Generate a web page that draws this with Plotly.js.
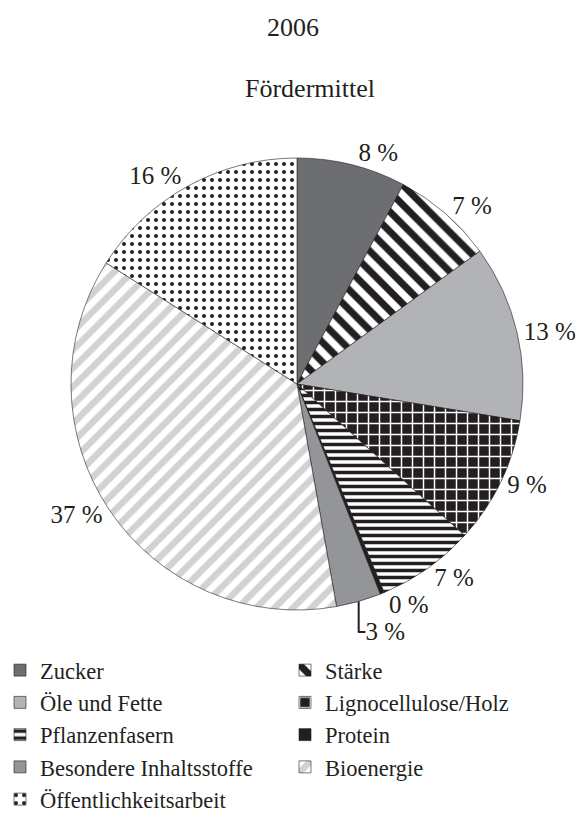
<!DOCTYPE html>
<html>
<head>
<meta charset="utf-8">
<script src="https://cdn.plot.ly/plotly-3.0.1.min.js"></script>
<style>html,body{margin:0;padding:0;background:#fff;}#chart{width:586px;height:821px;}</style>
</head>
<body>
<div id="chart"></div>
<script>
const categories = ["Zucker", "Stärke", "Öle und Fette", "Lignocellulose/Holz", "Pflanzenfasern", "Protein", "Besondere Inhaltsstoffe", "Bioenergie", "Öffentlichkeitsarbeit"];
const shares = [7.8, 7.2, 12.6, 9.1, 7.0, 0.3, 3.2, 36.8, 16.0];
const chartTitle = "2006";
const subTitle = "Fördermittel";

const patShape = ["", "\\", "", "+", "-", "", "", "/", "."];
const patFg = ["#6d6e71", "#231f20", "#b1b3b6", "#ffffff", "#231f20", "#231f20", "#939598", "#d1d2d4", "#231f20"];
const patBg = ["#6d6e71", "#ffffff", "#b1b3b6", "#231f20", "#ffffff", "#231f20", "#939598", "#ffffff", "#ffffff"];
const patSize = [8, 14, 8, 11, 7, 8, 8, 13, 8];
const patSolid = [0.3, 0.5, 0.3, 0.25, 0.5, 0.3, 0.3, 0.5, 0.2];

const labelsText = shares.map(v => Math.round(v) + " %");
const font = "Liberation Serif, Times New Roman, serif";

const trace = {
  type: "pie",
  labels: categories,
  values: shares,
  sort: false,
  direction: "clockwise",
  rotation: 0,
  text: labelsText,
  textinfo: "text",
  textposition: "outside",
  outsidetextfont: {family: font, size: 25, color: "#231f20"},
  hoverinfo: "label+percent",
  marker: {
    colors: patBg,
    line: {color: "#231f20", width: 0.6},
    pattern: {shape: patShape, fgcolor: patFg, bgcolor: patBg, size: patSize, solidity: patSolid, fillmode: "replace"}
  },
  domain: {x: [71/586, 523/586], y: [211/821, 663/821]}
};

const layout = {
  width: 586, height: 821,
  margin: {l: 0, r: 0, t: 0, b: 0, autoexpand: false},
  paper_bgcolor: "#fff",
  font: {family: font, size: 22.5, color: "#231f20"},
  showlegend: true,
  legend: {
    orientation: "h", x: 0, y: 0, xanchor: "left", yanchor: "bottom",
    entrywidth: 240, entrywidthmode: "pixels", traceorder: "normal",
    bgcolor: "rgba(255,255,255,0)",
    font: {family: font, size: 22.5, color: "#231f20"}, itemclick: false
  },
  annotations: [
    {text: chartTitle, xref: "paper", yref: "paper", x: 0.5, y: 1 - 28/821, xanchor: "center", yanchor: "middle", showarrow: false, font: {family: font, size: 26, color: "#231f20"}},
    {text: subTitle, xref: "paper", yref: "paper", x: 310/586, y: 1 - 88/821, xanchor: "center", yanchor: "middle", showarrow: false, font: {family: font, size: 26, color: "#231f20"}}
  ]
};

Plotly.newPlot("chart", [trace], layout, {staticPlot: true, displayModeBar: false});
</script>
</body>
</html>
